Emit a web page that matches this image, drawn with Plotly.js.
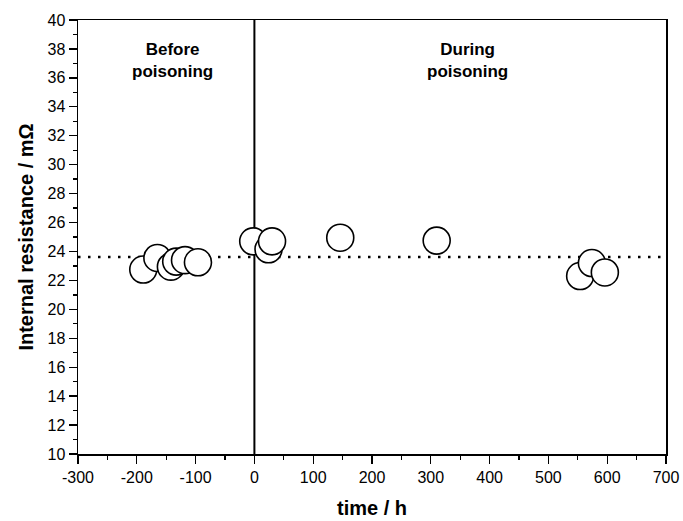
<!DOCTYPE html>
<html>
<head>
<meta charset="utf-8">
<script src="https://cdn.plot.ly/plotly-3.0.1.min.js"></script>
<style>html,body{margin:0;padding:0;background:#fff;}#chart{width:683px;height:521px;}</style>
</head>
<body>
<div id="chart"></div>
<script>
// Data
const timeH = [-189, -165, -142, -133, -118, -96, -2, 24, 30, 146, 310, 554, 574, 596];
const resistance = [22.75, 23.55, 22.95, 23.3, 23.4, 23.25, 24.7, 24.15, 24.7, 24.95, 24.75, 22.3, 23.2, 22.55];
const meanResistance = 23.62;
const xRange = [-300, 700];
const yRange = [10, 40];
const xTickVals = [-300, -200, -100, 0, 100, 200, 300, 400, 500, 600, 700];
const xTickText = ["-300", "-200", "-100", "0", "100", "200", "300", "400", "500", "600", "700"];
const regionLabels = ["Before<br>poisoning", "During<br>poisoning"];
const regionLabelX = [-140, 363];
const regionLabelY = 37.2;
const poisoningStart = 0;

const font = "Liberation Sans, Arial, sans-serif";

const traces = [
  {
    x: xRange, y: [meanResistance, meanResistance],
    mode: "lines", type: "scatter",
    line: {color: "#000", width: 2.5, dash: "2.5px,7.5px"},
    hoverinfo: "skip", showlegend: false
  },
  {
    x: [poisoningStart, poisoningStart], y: yRange,
    mode: "lines", type: "scatter",
    line: {color: "#000", width: 2},
    hoverinfo: "skip", showlegend: false
  },
  {
    x: timeH, y: resistance,
    mode: "markers", type: "scatter",
    marker: {symbol: "circle", size: 27, color: "rgba(255,255,255,1)", line: {color: "#000", width: 1.6}},
    showlegend: false
  }
];

const layout = {
  width: 683, height: 521,
  margin: {l: 78, r: 17, t: 20, b: 67},
  paper_bgcolor: "#fff", plot_bgcolor: "#fff",
  font: {family: font, color: "#000", size: 14},
  xaxis: {
    range: xRange, tickmode: "array", tickvals: xTickVals, ticktext: xTickText,
    ticks: "outside", ticklen: 8, tickwidth: 1.3, tickcolor: "#000",
    minor: {dtick: 50, tick0: -300, ticks: "outside", ticklen: 4, tickwidth: 1.3, tickcolor: "#000"},
    showline: true, linecolor: "#000", linewidth: 1.5, mirror: true,
    showgrid: false, zeroline: false,
    tickfont: {family: font, size: 16, color: "#000"},
    title: {text: "<b>time / h</b>", font: {family: font, size: 20, color: "#000"}, standoff: 16}
  },
  yaxis: {
    range: yRange, dtick: 2, tick0: 10,
    ticks: "outside", ticklen: 8, tickwidth: 1.3, tickcolor: "#000",
    minor: {dtick: 1, ticks: "outside", ticklen: 4, tickwidth: 1.3, tickcolor: "#000"},
    showline: true, linecolor: "#000", linewidth: 1.5, mirror: true,
    showgrid: false, zeroline: false,
    tickfont: {family: font, size: 16, color: "#000"},
    title: {text: "<b>Internal resistance / mΩ</b>", font: {family: font, size: 20, color: "#000"}, standoff: 8}
  },
  annotations: regionLabels.map((t, i) => ({
    x: regionLabelX[i], y: regionLabelY, xref: "x", yref: "y",
    text: "<b>" + t + "</b>", showarrow: false,
    font: {family: font, size: 17, color: "#000"}, align: "center"
  }))
};

Plotly.newPlot("chart", traces, layout, {staticPlot: true, displayModeBar: false});
</script>
</body>
</html>
